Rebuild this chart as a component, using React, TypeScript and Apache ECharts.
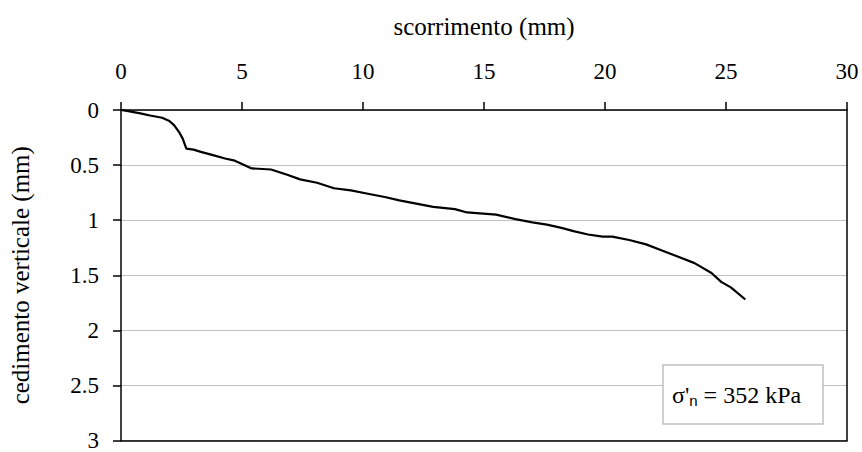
import React, { useEffect, useRef } from "react";
import * as echarts from "echarts";

const slipMm = [0, 0.3, 0.8, 1.2, 1.7, 2.0, 2.2, 2.4, 2.55, 2.7, 3.0, 3.3, 3.8, 4.3, 4.7, 5.0, 5.4, 6.2, 6.9, 7.4, 8.1, 8.8, 9.5, 10.2, 10.9, 11.5, 12.2, 12.9, 13.8, 14.3, 15.5, 16.3, 17.0, 17.6, 18.2, 18.7, 19.3, 19.9, 20.3, 21.0, 21.7, 22.3, 23.0, 23.7, 24.4, 24.8, 25.2, 25.8];
const settleMm = [0, 0.01, 0.03, 0.05, 0.07, 0.1, 0.14, 0.2, 0.26, 0.35, 0.36, 0.38, 0.41, 0.44, 0.46, 0.49, 0.53, 0.54, 0.59, 0.63, 0.66, 0.71, 0.73, 0.76, 0.79, 0.82, 0.85, 0.88, 0.9, 0.93, 0.95, 0.99, 1.02, 1.04, 1.07, 1.1, 1.13, 1.15, 1.15, 1.18, 1.22, 1.27, 1.33, 1.39, 1.48, 1.56, 1.61, 1.72];

const xName = "scorrimento (mm)";
const yName = "cedimento verticale (mm)";
const noteMain = "σ'";
const noteSub = "n";
const noteRest = " = 352 kPa";

const SERIF = "Liberation Serif";
const SANS = "Liberation Sans";

export default function App() {
  const ref = useRef<HTMLDivElement>(null);
  useEffect(() => {
    document.body.style.margin = "0";
    if (!ref.current) return;
    const el = ref.current;
    const chart = echarts.init(el, null, { renderer: "svg" });
    const tickLab = { color: "#000", fontFamily: SERIF, fontSize: 23 };
    const nameStyle = { color: "#000", fontFamily: SERIF, fontSize: 25 };
    chart.setOption({
      animation: false,
      backgroundColor: "#fff",
      grid: { left: 116, top: 110, right: 15, bottom: 7 },
      xAxis: [
        {
          type: "value",
          position: "top",
          min: 0,
          max: 30,
          interval: 5,
          name: xName,
          nameLocation: "middle",
          nameGap: 71,
          nameTextStyle: nameStyle,
          axisLine: { show: true, lineStyle: { color: "#000", width: 1.5 } },
          axisTick: { show: true, length: 8, lineStyle: { color: "#000", width: 1.5 } },
          axisLabel: { ...tickLab, margin: 27 },
          splitLine: { show: false },
        },
        {
          type: "value",
          position: "bottom",
          min: 0,
          max: 30,
          interval: 5,
          axisLine: { show: true, onZero: false, lineStyle: { color: "#000", width: 1.5 } },
          axisTick: { show: false },
          axisLabel: { show: false },
          splitLine: { show: false },
        },
      ],
      yAxis: [
        {
          type: "value",
          inverse: true,
          min: 0,
          max: 3,
          interval: 0.5,
          name: yName,
          nameLocation: "middle",
          nameGap: 88,
          nameTextStyle: nameStyle,
          axisLine: { show: true, lineStyle: { color: "#000", width: 1.5 } },
          axisTick: { show: true, length: 8, lineStyle: { color: "#000", width: 1.5 } },
          axisLabel: { ...tickLab, margin: 22 },
          splitLine: { show: true, lineStyle: { color: "#c0c0c0", width: 1.2 } },
        },
        {
          type: "value",
          position: "right",
          inverse: true,
          min: 0,
          max: 3,
          interval: 0.5,
          axisLine: { show: true, onZero: false, lineStyle: { color: "#000", width: 1.5 } },
          axisTick: { show: false },
          axisLabel: { show: false },
          splitLine: { show: false },
        },
      ],
      series: [
        {
          type: "line",
          xAxisIndex: 0,
          yAxisIndex: 0,
          data: slipMm.map((x, i) => [x, settleMm[i]]),
          showSymbol: false,
          symbol: "none",
          lineStyle: { color: "#000", width: 2.2 },
          z: 5,
        },
      ],
      graphic: [
        {
          type: "rect",
          shape: { x: 663, y: 365, width: 160, height: 59 },
          style: { fill: "#fff", stroke: "#c0c0c0", lineWidth: 1.5 },
          z: 10,
        },
        {
          type: "text",
          x: 672,
          y: 395,
          z: 11,
          style: {
            text: `{a|${noteMain}}{b|${noteSub}}{a|${noteRest}}`,
            verticalAlign: "middle",
            rich: {
              a: { fontFamily: SERIF, fontSize: 24, fill: "#000" },
              b: { fontFamily: SANS, fontSize: 15, fill: "#000", padding: [10, 0, 0, 0] },
            },
          },
        },
      ],
    });
    return () => chart.dispose();
  }, []);
  return <div ref={ref} style={{ width: 862, height: 452 }} />;
}
